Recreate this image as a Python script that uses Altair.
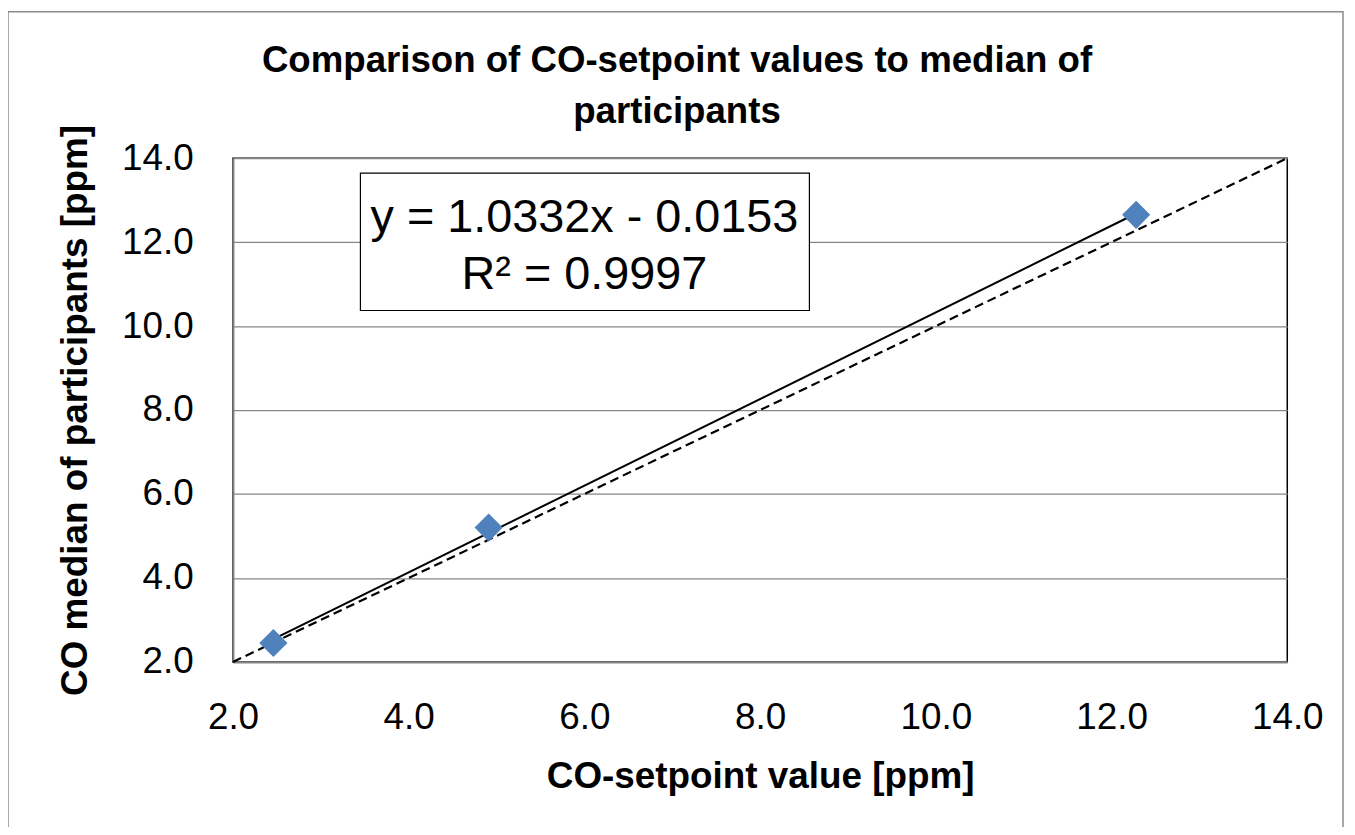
import altair as alt
import pandas as pd

# Data
setpoint = [2.46, 4.91, 12.28]
median = [2.45, 5.20, 12.65]
ident_x = [2.0, 14.0]
ident_y = [2.0, 14.0]
tick_vals = [2.0, 4.0, 6.0, 8.0, 10.0, 12.0, 14.0]
eq_lines = ["y = 1.0332x - 0.0153", "R\u00b2 = 0.9997"]
title_lines = ["Comparison of CO-setpoint values to median of", "participants"]

pts = pd.DataFrame({"setpoint": setpoint, "median": median})
ident = pd.DataFrame({"setpoint": ident_x, "median": ident_y})
one = pd.DataFrame({"k": [0]})

FONT = "Liberation Sans"

xs = alt.Scale(domain=[2, 14], nice=False, zero=False)
ys = alt.Scale(domain=[2, 14], nice=False, zero=False)

axis_style = dict(
    labelFont=FONT, labelFontSize=37, labelColor="black",
    titleFont=FONT, titleFontSize=37, titleFontWeight="bold", titleColor="black",
    ticks=False, tickSize=0, domainColor="#868686", domainWidth=2,
    values=tick_vals, format=".1f", labelFlush=False, labelOverlap=False,
)

xenc = alt.X("setpoint:Q", scale=xs,
             axis=alt.Axis(title="CO-setpoint value [ppm]", grid=False,
                           labelPadding=38, titlePadding=23, **axis_style))
yenc = alt.Y("median:Q", scale=ys,
             axis=alt.Axis(title="CO median of participants [ppm]",
                           grid=True, gridColor="#868686", gridWidth=1.3,
                           labelPadding=40, titlePadding=27, **axis_style))

frame = alt.Chart(one).mark_rect(fill=None, stroke="#8c8c8c", strokeWidth=1.5, clip=False).encode(
    x=alt.value(-226), x2=alt.value(1115), y=alt.value(-147), y2=alt.value(700)
)

identity = alt.Chart(ident).mark_line(color="black", strokeWidth=2.2, strokeDash=[9, 5]).encode(
    x=xenc, y=yenc
)

trend = alt.Chart(pts).transform_regression("setpoint", "median", method="linear").mark_line(
    color="black", strokeWidth=2
).encode(x=alt.X("setpoint:Q", scale=xs), y=alt.Y("median:Q", scale=ys))

points = alt.Chart(pts).mark_point(shape="diamond", filled=True, color="#4F81BD", size=800, opacity=1).encode(
    x=alt.X("setpoint:Q", scale=xs), y=alt.Y("median:Q", scale=ys)
)

box = alt.Chart(one).mark_rect(fill="white", stroke="black", strokeWidth=1.2).encode(
    x=alt.value(128), x2=alt.value(579), y=alt.value(15), y2=alt.value(153)
)

eq1 = alt.Chart(one).mark_text(text=eq_lines[0], font=FONT, fontSize=47, color="black",
                               align="center", baseline="middle").encode(
    x=alt.value(353), y=alt.value(60)
)
eq2 = alt.Chart(one).mark_text(text=eq_lines[1], font=FONT, fontSize=47, color="black",
                               align="center", baseline="middle").encode(
    x=alt.value(353), y=alt.value(117)
)

t1 = alt.Chart(one).mark_text(text=title_lines[0], font=FONT, fontSize=36.8, fontWeight="bold",
                              color="black", align="center", baseline="alphabetic").encode(
    x=alt.value(446), y=alt.value(-87)
)
t2 = alt.Chart(one).mark_text(text=title_lines[1], font=FONT, fontSize=36.8, fontWeight="bold",
                              color="black", align="center", baseline="alphabetic").encode(
    x=alt.value(446), y=alt.value(-35)
)

chart = alt.layer(frame, identity, trend, points, box, eq1, eq2, t1, t2).properties(
    width=1059,
    height=506,
    autosize=alt.AutoSizeParams(type="none"),
    padding={"left": 226, "top": 149, "right": 60, "bottom": 164},
    background="white",
).configure_view(
    stroke="black", strokeWidth=1.5
)

chart.save("out.html", embed_options={"renderer": "svg", "actions": False})
